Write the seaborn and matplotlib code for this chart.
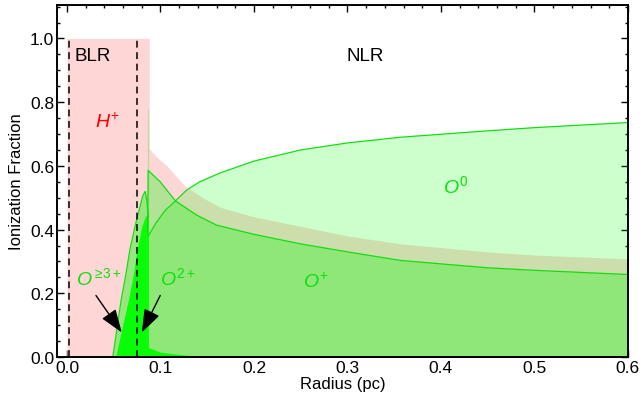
import matplotlib
matplotlib.use("Agg")
import matplotlib.pyplot as plt
import numpy as np
import seaborn as sns
import pandas as pd
from matplotlib.ticker import MultipleLocator

# data (radius in pc, ionization fraction)
h_r = [0.0, 0.088, 0.088, 0.095, 0.107, 0.125, 0.145, 0.164, 0.2, 0.25, 0.3, 0.357, 0.45, 0.5, 0.6]
h_f = [1.0, 1.0, 0.654, 0.63, 0.60, 0.54, 0.50, 0.47, 0.44, 0.41, 0.38, 0.355, 0.33, 0.32, 0.308]

o0_r = [0.087, 0.095, 0.105, 0.116, 0.128, 0.142, 0.164, 0.2, 0.25, 0.3, 0.357, 0.45, 0.5, 0.6]
o0_f = [0.38, 0.42, 0.46, 0.49, 0.524, 0.55, 0.578, 0.615, 0.65, 0.672, 0.69, 0.71, 0.72, 0.736]

op_r = [0.0862, 0.0862, 0.0868, 0.0997, 0.116, 0.139, 0.160, 0.2, 0.25, 0.3, 0.357, 0.45, 0.5, 0.6]
op_f = [0.0, 0.78, 0.586, 0.55, 0.49, 0.445, 0.414, 0.385, 0.355, 0.33, 0.303, 0.28, 0.272, 0.259]

o3_r = [0.049, 0.053, 0.058, 0.063, 0.0675, 0.072, 0.077, 0.081, 0.0836, 0.0855, 0.087, 0.087, 0.10, 0.12]
o3_f = [0.0, 0.08, 0.18, 0.26, 0.34, 0.40, 0.46, 0.505, 0.52, 0.49, 0.44, 0.015, 0.008, 0.0]

o2_r = [0.052, 0.058, 0.0657, 0.071, 0.075, 0.08, 0.0836, 0.087, 0.087, 0.10, 0.12, 0.15]
o2_f = [0.0, 0.08, 0.18, 0.26, 0.34, 0.41, 0.44, 0.45, 0.03, 0.015, 0.008, 0.0]

blr_edges = [0.0025, 0.075]

sns.set_theme(style="ticks")
plt.rcParams['font.family'] = ['Liberation Sans', 'DejaVu Sans']
plt.rcParams['mathtext.fontset'] = 'custom'
plt.rcParams['mathtext.rm'] = 'Liberation Sans'
plt.rcParams['mathtext.it'] = 'Liberation Sans:italic'
plt.rcParams['text.color'] = 'black'
plt.rcParams['axes.labelcolor'] = 'black'
plt.rcParams['xtick.color'] = 'black'
plt.rcParams['ytick.color'] = 'black'

fig = plt.figure(figsize=(6.44, 4.02), dpi=100)
ax = fig.add_axes([0.0885, 0.1095, 0.8865, 0.8755])

green = '#00ff00'
edge = '#11dd11'

# H+ region
ax.fill_between(h_r, 0, h_f, color='#ffd6d6', lw=0, zorder=1)
# O0
ax.fill_between(o0_r, 0, o0_f, color=green, alpha=0.2, lw=0, zorder=2)
sns.lineplot(x=o0_r, y=o0_f, ax=ax, color=edge, lw=0.9, sort=False, zorder=5)
# O+
ax.fill_between(op_r, 0, op_f, color=green, alpha=0.3, lw=0, zorder=3)
sns.lineplot(x=op_r, y=op_f, ax=ax, color=edge, lw=0.9, sort=False, zorder=5)
# O>=3+
ax.fill_between(o3_r, 0, o3_f, color=green, alpha=0.4, lw=0, zorder=3)
sns.lineplot(x=o3_r[:11], y=o3_f[:11], ax=ax, color=edge, lw=0.9, sort=False, zorder=5)
# O2+
ax.fill_between(o2_r, 0, o2_f, color=green, alpha=0.95, lw=0, zorder=4)

ax.vlines(blr_edges, 0, 1.0, colors='black', linestyles=(0, (4.5, 3)), lw=1.1, zorder=6)

ax.text(0.027, 0.947, 'BLR', fontsize=13.5, ha='center', va='center', zorder=7)
ax.text(0.319, 0.947, 'NLR', fontsize=13.5, ha='center', va='center', zorder=7)
ax.text(0.043, 0.74, r'$H^{+}$', fontsize=14, color='red', ha='center', va='center', zorder=7)
ax.text(0.416, 0.54, r'$O^{0}$', fontsize=14, color='#11dd11', ha='center', va='center', zorder=7)
ax.text(0.266, 0.237, r'$O^{+}$', fontsize=14, color='#11dd11', ha='center', va='center', zorder=7)
ax.text(0.034, 0.25, r'$O^{\geq\!3+}$', fontsize=14, color='#11dd11', ha='center', va='center', zorder=7)
ax.text(0.118, 0.25, r'$O^{2+}$', fontsize=14, color='#11dd11', ha='center', va='center', zorder=7)

arrow = dict(arrowstyle='-|>,head_length=0.75,head_width=0.27', mutation_scale=19, color='black', lw=1,
             shrinkA=0, shrinkB=0)
ax.annotate('', xy=(0.0586, 0.077), xytext=(0.031, 0.193), arrowprops=arrow, zorder=8)
ax.annotate('', xy=(0.080, 0.077), xytext=(0.0997, 0.193), arrowprops=arrow, zorder=8)

ax.set_xlim(-0.0107, 0.6)
ax.set_ylim(0, 1.105)
ax.xaxis.set_minor_locator(MultipleLocator(0.02))
ax.yaxis.set_minor_locator(MultipleLocator(0.05))
ax.set_xticks(np.arange(0, 0.61, 0.1))
ax.set_xticklabels(['0.0', '0.1', '0.2', '0.3', '0.4', '0.5', '0.6'])
ax.set_yticks(np.arange(0, 1.01, 0.2))
ax.set_yticklabels(['0.0', '0.2', '0.4', '0.6', '0.8', '1.0'])
ax.tick_params(which='both', direction='in', top=True, right=True, labelsize=12.5, width=1, pad=2)
ax.tick_params(which='major', length=5)
ax.tick_params(which='minor', length=2.5)
for s in ax.spines.values():
    s.set_linewidth(1.4)
    s.set_color('black')
    s.set_zorder(10)

ax.set_xlabel('Radius (pc)', fontsize=12, labelpad=1)
ax.set_ylabel('Ionization Fraction', fontsize=12, labelpad=4)

fig.savefig('out.png', dpi=100)
